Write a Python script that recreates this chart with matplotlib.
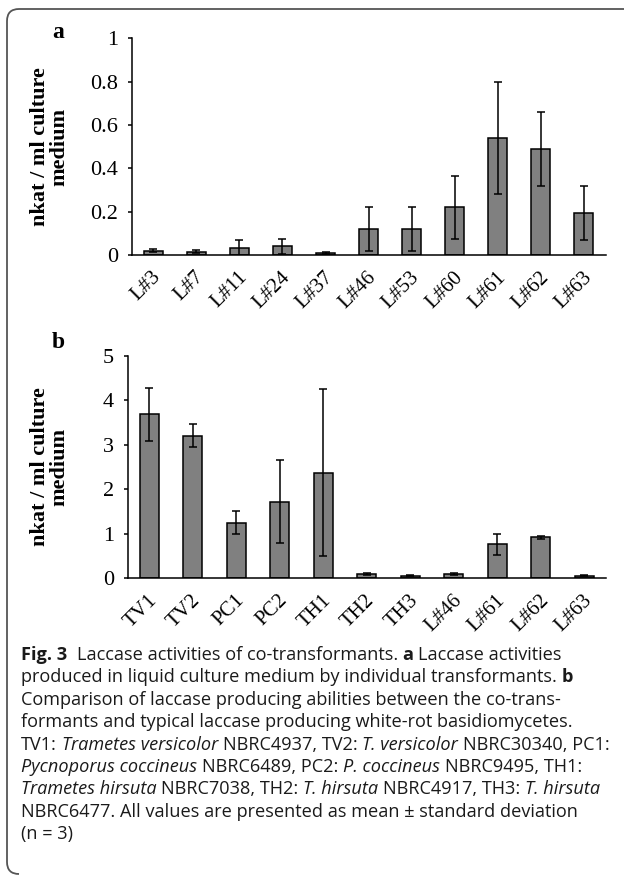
import numpy as np
import matplotlib
matplotlib.use('Agg')
import matplotlib.pyplot as plt
from matplotlib.path import Path
from matplotlib.patches import PathPatch
from matplotlib.transforms import ScaledTranslation

# ── data ──
a_labels = ['L#3', 'L#7', 'L#11', 'L#24', 'L#37', 'L#46', 'L#53', 'L#60', 'L#61', 'L#62', 'L#63']
a_mean = [0.02, 0.015, 0.03, 0.04, 0.008, 0.12, 0.12, 0.22, 0.54, 0.49, 0.195]
a_sd = [0.008, 0.006, 0.037, 0.035, 0.004, 0.10, 0.10, 0.145, 0.26, 0.17, 0.125]
a_ticks = [0, 0.2, 0.4, 0.6, 0.8, 1]
a_ticklabels = ['0', '0.2', '0.4', '0.6', '0.8', '1']

b_labels = ['TV1', 'TV2', 'PC1', 'PC2', 'TH1', 'TH2', 'TH3', 'L#46', 'L#61', 'L#62', 'L#63']
b_mean = [3.68, 3.2, 1.25, 1.72, 2.37, 0.1, 0.06, 0.1, 0.76, 0.92, 0.06]
b_sd = [0.6, 0.26, 0.26, 0.93, 1.88, 0.03, 0.015, 0.03, 0.245, 0.04, 0.01]
b_ticks = [0, 1, 2, 3, 4, 5]

ylabel = 'nkat / ml culture\nmedium'

caption = [
    [('Fig. 3', 'bold', 'normal'), ('  Laccase activities of co-transformants. ', 'normal', 'normal'),
     ('a', 'bold', 'normal'), (' Laccase activities', 'normal', 'normal')],
    [('produced in liquid culture medium by individual transformants. ', 'normal', 'normal'),
     ('b', 'bold', 'normal')],
    [('Comparison of laccase producing abilities between the co-trans-', 'normal', 'normal')],
    [('formants and typical laccase producing white-rot basidiomycetes.', 'normal', 'normal')],
    [('TV1: ', 'normal', 'normal'), ('Trametes versicolor', 'normal', 'italic'),
     (' NBRC4937, TV2: ', 'normal', 'normal'), ('T. versicolor', 'normal', 'italic'),
     (' NBRC30340, PC1:', 'normal', 'normal')],
    [('Pycnoporus coccineus', 'normal', 'italic'), (' NBRC6489, PC2: ', 'normal', 'normal'),
     ('P. coccineus', 'normal', 'italic'), (' NBRC9495, TH1:', 'normal', 'normal')],
    [('Trametes hirsuta', 'normal', 'italic'), (' NBRC7038, TH2: ', 'normal', 'normal'),
     ('T. hirsuta', 'normal', 'italic'), (' NBRC4917, TH3: ', 'normal', 'normal'),
     ('T. hirsuta', 'normal', 'italic')],
    [('NBRC6477. All values are presented as mean \u00b1 standard deviation', 'normal', 'normal')],
    [('(n = 3)', 'normal', 'normal')],
]

W, H = 624, 884
serif = 'Liberation Serif'
fig = plt.figure(figsize=(W / 100, H / 100), dpi=100)


def px_axes(left, right, top, bottom):
    return fig.add_axes([left / W, 1 - bottom / H, (right - left) / W, (bottom - top) / H])


def panel(ax, labels, mean, sd, ymax, ticks, ticklabels):
    x = np.arange(len(labels))
    ax.bar(x, mean, width=0.44, color='#808080', edgecolor='black', linewidth=1.1,
           yerr=sd, error_kw=dict(ecolor='black', elinewidth=1.1, capsize=3, capthick=1.1))
    ax.set_xlim(-0.5, len(labels) - 0.5)
    ax.set_ylim(0, ymax)
    for s in ['top', 'right']:
        ax.spines[s].set_visible(False)
    for s in ['left', 'bottom']:
        ax.spines[s].set_linewidth(1.1)
    ax.set_yticks(ticks)
    ax.set_yticklabels(ticklabels, fontfamily=serif, fontsize=16)
    ax.tick_params(axis='y', length=3, width=1.1, pad=7)
    ax.set_xticks(x)
    ax.set_xticklabels(labels, fontfamily=serif, fontsize=15, rotation=45,
                       ha='right', va='center', rotation_mode='anchor')
    ax.tick_params(axis='x', length=0, pad=14)
    off = ScaledTranslation(5 / 100, 0, fig.dpi_scale_trans)
    for lab in ax.get_xticklabels():
        lab.set_transform(lab.get_transform() + off)


ax_a = px_axes(131.7, 605.5, 38.3, 255)
panel(ax_a, a_labels, a_mean, a_sd, 1, a_ticks, a_ticklabels)
ax_b = px_axes(127.7, 606, 355.7, 578.3)
panel(ax_b, b_labels, b_mean, b_sd, 5, b_ticks, [str(t) for t in b_ticks])

# panel letters and y labels
fig.text(58 / W, 1 - 32 / H, 'a', fontfamily=serif, fontsize=17, fontweight='bold', ha='center', va='center')
fig.text(58 / W, 1 - 342 / H, 'b', fontfamily=serif, fontsize=17, fontweight='bold', ha='center', va='center')
for yc in [(38.3 + 255) / 2, (355.7 + 578.3) / 2]:
    fig.text(50 / W, 1 - yc / H, ylabel, fontfamily=serif, fontsize=16, fontweight='bold',
             rotation=90, ha='center', va='center', multialignment='center', linespacing=0.95)

# frame with rounded left corners
r = 12
verts = [(W + 5, 9), (7 + r, 9), (7, 9), (7, 9 + r), (7, 874 - r), (7, 874), (7 + r, 874), (30, 874)]
codes = [Path.MOVETO, Path.LINETO, Path.CURVE3, Path.CURVE3, Path.LINETO, Path.CURVE3, Path.CURVE3, Path.MOVETO]
verts = [(vx / W, 1 - vy / H) for vx, vy in verts]
fig.patches.append(PathPatch(Path(verts, codes), transform=fig.transFigure, fill=False,
                             edgecolor='#555555', linewidth=1.3))

# caption
cap_font = 'Open Sans'
cap_fs = 13.1
cap_col = '#1a1a1a'
space_px = 0.26 * cap_fs * 100 / 72
renderer = fig.canvas.get_renderer()
for i, line in enumerate(caption):
    y = 660 + 22.4 * i
    x = 21
    for s, w, st in line:
        lead = len(s) - len(s.lstrip(' '))
        trail = len(s) - len(s.rstrip(' '))
        x += lead * space_px
        t = fig.text(x / W, 1 - y / H, s.strip(' '), fontfamily=cap_font, fontsize=cap_fs,
                     fontweight=w, fontstyle=st, color=cap_col, ha='left', va='baseline')
        x += t.get_window_extent(renderer).width + trail * space_px

fig.savefig('out.png', dpi=100)
